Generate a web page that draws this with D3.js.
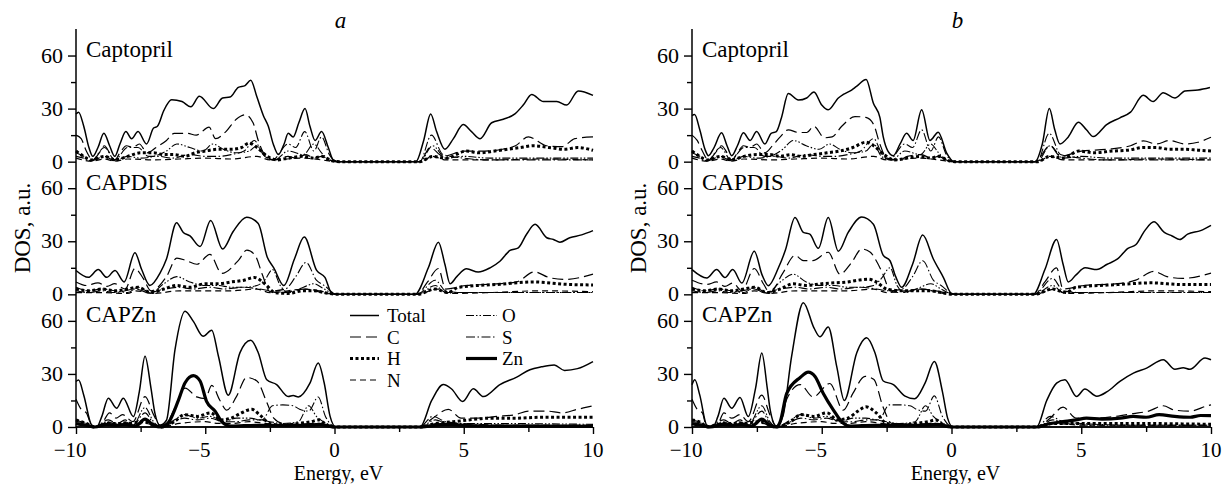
<!DOCTYPE html>
<html>
<head>
<meta charset="utf-8">
<script src="https://cdn.jsdelivr.net/npm/d3@7"></script>
<style>
  body { margin: 0; background: #fff; }
  svg text { font-family: "Liberation Serif", "Times New Roman", serif; fill: #000; }
</style>
</head>
<body>
<div id="chart"></div>
<script>
// axis ticks and names
var energyTicks = [-10, -5, 0, 5, 10];
var energyMinor = [-7.5, -2.5, 2.5, 7.5];
var dosTicks = [0, 30, 60];
var dosMinor = [15, 45];
var panelNames = ["a", "b"];
var systemNames = ["Captopril", "CAPDIS", "CAPZn"];
var seriesNames = ["Total", "C", "H", "N", "O", "S", "Zn"];

// ---- panel a, Captopril  ([energy eV, DOS])
var aCapTotal = [[-10,27],[-9.9,28],[-9.7,20],[-9.5,8],[-9.35,3],[-9.15,8],[-8.92,16],[-8.7,9],[-8.5,3],[-8.3,10],[-8.07,17],[-7.85,13],[-7.6,17],[-7.27,10],[-7.0,19],[-6.85,20],[-6.6,29],[-6.3,35],[-5.9,34],[-5.56,31],[-5.23,37],[-4.69,30],[-4.33,36],[-4.04,36.5],[-3.72,42],[-3.46,43],[-3.24,46],[-3.0,36.5],[-2.75,26],[-2.56,20],[-2.37,10],[-2.17,4],[-1.95,10],[-1.79,16],[-1.6,14],[-1.38,22],[-1.14,30],[-0.95,20],[-0.75,12],[-0.5,17],[-0.24,8],[-0.05,1],[0.2,0],[3.15,0],[3.45,12],[3.72,27],[3.95,17],[4.27,7],[4.6,13],[4.98,21],[5.3,17],[5.63,13],[6.08,22],[6.53,24],[6.98,27],[7.3,32],[7.63,38],[8.08,34],[8.6,34],[8.98,32],[9.43,40],[10,37.5]];
var aCapC = [[-10,15],[-9.8,13],[-9.6,6],[-9.35,1],[-9.1,5],[-8.9,9],[-8.7,5],[-8.5,1],[-8.3,5],[-8.05,9],[-7.8,8],[-7.55,10],[-7.25,5],[-6.9,8],[-6.5,12],[-6.2,16],[-5.7,16],[-5.35,15],[-4.85,19.5],[-4.6,13],[-4.2,17],[-3.8,24],[-3.45,26.5],[-3.15,22],[-2.95,12],[-2.7,4],[-2.35,1],[-1.8,3],[-1.5,2],[-1.1,4],[-0.8,2],[-0.5,3],[-0.2,1],[0.1,0],[3.3,0],[3.7,8],[4.2,3],[5.0,6],[5.8,6],[6.5,7],[7.0,9],[7.5,14],[8.2,9],[8.8,8.5],[9.3,13],[10,14]];
var aCapH = [[-10,6],[-9.7,3],[-9.4,1],[-8.9,3],[-8.5,1],[-8.0,3],[-7.5,5],[-7.0,5],[-6.6,4],[-6.2,4],[-5.8,3],[-5.4,5],[-5.0,6],[-4.5,7],[-4.0,7],[-3.6,8],[-3.3,10.5],[-3.0,8],[-2.6,3],[-2.2,1],[-1.8,2],[-1.2,3],[-0.8,2],[-0.5,3],[-0.1,0.5],[0.2,0],[3.3,0],[3.8,3],[4.3,2],[5.1,6],[5.6,5],[6.2,6],[6.7,7],[7.2,8],[7.7,9],[8.3,8],[8.9,7],[9.4,8],[10,6.4]];
var aCapN = [[-10,2],[-9.4,0.3],[-8.9,1.5],[-8.5,0.3],[-8,1.5],[-7,1],[-6,1.5],[-5,2],[-4,1.5],[-3,3],[-2.5,1],[-1.2,2],[-0.5,1],[0.1,0],[3.3,0],[3.8,3],[4.3,1],[6,1],[8,1.5],[10,1]];
var aCapO = [[-10,3],[-9.7,2],[-9.4,0.5],[-8.9,3],[-8.5,0.5],[-8,3],[-7.5,2],[-7,3],[-6.5,6],[-6.1,10],[-5.6,8],[-5.1,6],[-4.7,10],[-4.3,7],[-3.8,5],[-3.3,6],[-3.0,9],[-2.7,3],[-2.3,1],[-1.8,6],[-1.2,4],[-0.8,10],[-0.5,5],[-0.2,1],[0.1,0],[3.3,0],[3.8,9],[4.3,2],[5,3],[6,2],[8,2],[10,2]];
var aCapS = [[-10,5],[-9.7,3],[-9.4,0.5],[-8.9,8],[-8.5,1],[-8.0,8],[-7.6,8],[-7.2,3],[-6.8,3],[-6.3,2],[-5.6,4],[-5.0,3],[-4.5,3],[-4.0,4],[-3.5,6],[-3.1,12],[-2.8,5],[-2.4,1],[-1.8,10],[-1.5,8],[-1.15,17],[-0.8,6],[-0.5,14],[-0.2,4],[0.1,0],[3.3,0],[3.75,15],[4.2,4],[5,2],[6,1],[8,1],[10,1]];

// ---- panel a, CAPDIS
var aDisTotal = [[-10,13.5],[-9.52,9.6],[-9.14,14],[-8.81,9.6],[-8.49,13.5],[-8.14,7],[-7.72,23.5],[-7.46,14],[-7.14,5],[-6.75,12],[-6.5,20],[-6.11,40.5],[-5.85,35],[-5.59,33],[-5.2,27],[-4.79,41.7],[-4.33,25.6],[-3.92,35.5],[-3.4,43.6],[-2.95,40],[-2.6,21],[-2.35,15],[-1.96,5],[-1.55,20],[-1.17,32.4],[-0.69,13.5],[-0.37,9.6],[-0.1,0.5],[0.2,0],[3.11,0],[3.63,15],[4.02,29.5],[4.27,17],[4.47,6],[4.73,10],[5.11,14.4],[5.56,12.6],[6.02,15],[6.4,18.7],[6.79,24.8],[7.11,26.3],[7.43,34],[7.76,39.6],[8.21,32],[8.47,31],[8.72,29.5],[9.1,32],[9.56,33.6],[10,36]];
var aDisC = [[-10,7],[-9.6,5],[-9.15,6.5],[-8.8,4.5],[-8.5,6],[-8.1,3],[-7.72,14.6],[-7.4,9],[-7.1,2],[-6.5,10],[-6.1,20.5],[-5.72,19],[-5.33,17],[-4.82,22.6],[-4.36,11.8],[-3.7,19.5],[-3.39,25],[-3.07,22],[-2.8,11.5],[-2.5,1.5],[-2.0,1],[-1.2,3],[-0.6,2],[0.1,0],[3.2,0],[3.6,7],[4.02,14.6],[4.3,3],[5.1,5],[6.4,6],[7.05,7],[7.73,12.7],[8.3,9.5],[8.9,8.4],[10,11.4]];
var aDisH = [[-10,3],[-9.5,2],[-9,3],[-8.5,2],[-8,3],[-7.6,4],[-7.1,1],[-6.6,3],[-6.1,5],[-5.6,4],[-5,6],[-4.5,6],[-4,7],[-3.5,8],[-3.1,9.5],[-2.7,6],[-2.3,1],[-1.8,0.5],[-1.2,2],[-0.8,2],[-0.4,1],[0.1,0],[3.2,0],[3.9,3],[4.4,1],[4.8,4],[6.4,5.7],[7.7,7],[8.9,5.7],[10,5.3]];
var aDisN = [[-10,1],[-9,1],[-8,0.5],[-7.7,2],[-7,0.5],[-6,2],[-5,2],[-4,2],[-3,3],[-2.5,1],[-1.1,3],[-0.5,1],[0.1,0],[3.2,0],[4,3],[4.4,0.5],[6,1],[8,2],[10,1.5]];
var aDisO = [[-10,4],[-9.5,2],[-9,3],[-8.5,2],[-8,1],[-7.6,4],[-7.1,1],[-6.6,6],[-6.1,10],[-5.6,7],[-5,5],[-4.5,5],[-4,4],[-3.5,4],[-3,5],[-2.7,8],[-2.4,14],[-2.1,5],[-1.8,1],[-1.2,4],[-0.8,6],[-0.4,3],[0.1,0],[3.2,0],[3.9,5],[4.3,1],[5,1],[10,1]];
var aDisS = [[-10,2],[-9.5,1],[-9,2],[-8.5,1],[-7.7,3],[-7.2,1],[-6.6,3],[-6,4],[-5.5,3],[-4.8,4],[-4.3,3],[-3.5,4],[-2.9,3],[-2.4,2],[-1.9,3],[-1.5,10],[-1.1,18],[-0.7,8],[-0.4,5],[0.1,0],[3.2,0],[3.9,8],[4.3,2],[5,1],[7,1],[10,1]];

// ---- panel a, CAPZn
var aZnTotal = [[-10,25.7],[-9.9,26.5],[-9.7,18],[-9.39,1],[-9.2,0],[-9.0,6],[-8.75,16.3],[-8.43,10.6],[-8.17,16.3],[-7.78,5.9],[-7.55,20],[-7.33,40],[-7.1,22],[-6.95,8],[-6.75,1],[-6.5,3.8],[-6.17,43.7],[-5.78,65.5],[-5.46,59.7],[-5.08,51.3],[-4.75,54.7],[-4.49,40],[-4.11,18],[-3.66,41.9],[-3.24,49],[-2.95,42],[-2.62,26.7],[-2.24,24],[-1.79,17.2],[-1.6,17.8],[-1.4,17],[-0.95,24.8],[-0.63,36.2],[-0.4,25],[-0.17,6],[0.05,0],[3.31,0],[3.76,15],[4.21,24],[4.53,21.5],[4.96,14.4],[5.37,21.6],[5.76,17.2],[6.4,24],[7.05,28.2],[7.56,32.4],[8.0,34],[8.5,35],[8.9,32],[9.4,33],[10,37]];
var aZnC = [[-10,15.7],[-9.8,10],[-9.6,8],[-9.35,0],[-9.0,2],[-8.7,8],[-8.45,5],[-8.2,7],[-7.8,3],[-7.33,17.2],[-7.0,7],[-6.75,1],[-6.5,2],[-6.2,10],[-5.78,22],[-5.33,17],[-5.0,16],[-4.75,23.5],[-4.43,15],[-4.17,9.5],[-3.8,17],[-3.4,28],[-3.0,26],[-2.62,14],[-2.35,5],[-2.0,2],[-1.5,1.5],[-0.8,2],[-0.4,1],[0.05,0],[3.3,0],[3.8,5],[4.4,10],[4.9,5],[5.5,5],[6.3,6],[7,7],[7.5,9],[8.2,9],[8.8,8],[9.4,10],[10,12]];
var aZnH = [[-10,4],[-9.6,2],[-9.3,0],[-8.75,2],[-8.1,2],[-7.33,3],[-7,1],[-6.7,0],[-6.2,3],[-5.8,7],[-5.3,6],[-4.8,8],[-4.4,4],[-4.0,5],[-3.6,8],[-3.2,10],[-2.9,7],[-2.5,2],[-2,1],[-1.4,2],[-0.9,3],[-0.6,4],[-0.3,1],[0.05,0],[3.3,0],[3.9,2],[4.6,3],[5.2,4],[6,5],[7,5],[8,5.5],[9,5.5],[10,5.5]];
var aZnN = [[-10,1.5],[-9.3,0],[-8.7,1],[-8,1],[-7.33,2],[-6.7,0],[-6,2],[-5,3],[-4.5,2],[-4,2],[-3.3,3],[-2.7,2],[-2,1],[-1,1],[-0.6,2],[0.05,0],[3.3,0],[4,2],[5,1],[10,1]];
var aZnO = [[-10,4],[-9.6,2],[-9.3,0],[-8.75,3],[-8.4,1],[-8.1,3],[-7.8,1],[-7.33,11],[-7,3],[-6.7,0],[-6.2,4],[-5.8,7],[-5.3,5],[-4.8,6],[-4.3,3],[-3.8,5],[-3.3,5],[-2.9,4],[-2.5,3],[-2,2],[-1.4,3],[-1.0,12],[-0.7,6],[-0.3,2],[0.05,0],[3.3,0],[3.9,4],[4.4,2],[5.5,2],[10,1.5]];
var aZnS = [[-10,3],[-9.6,2],[-9.3,0],[-8.75,4],[-8.4,2],[-8.1,4],[-7.8,1],[-7.33,8],[-7,2],[-6.7,0],[-6.2,3],[-5.8,5],[-5.3,4],[-4.8,5],[-4.3,3],[-3.8,3],[-3.3,4],[-2.8,4],[-2.4,12],[-2.0,12.5],[-1.6,12],[-1.35,10],[-1.0,9],[-0.63,17],[-0.35,6],[0.05,0],[3.3,0],[3.8,6],[4.3,3],[5,2],[7,1],[10,1]];
var aZnZn = [[-10,2],[-9.6,1],[-9.3,0],[-8.8,1.5],[-8.4,1],[-8.1,1.5],[-7.7,0.5],[-7.33,4.5],[-7.0,1],[-6.7,0],[-6.4,3],[-6.04,15],[-5.78,25],[-5.46,29],[-5.2,26],[-4.95,14.5],[-4.62,9],[-4.33,2.5],[-4.0,0.5],[-3,1],[-2,1],[-1,1],[-0.6,1.5],[0,0],[3.3,0],[4.3,1.5],[5,1],[6,0.5],[7,0.5],[8,0.5],[10,0.3]];

// ---- panel b, Captopril
var bCapTotal = [[-10,26],[-9.9,26.6],[-9.7,18],[-9.5,7],[-9.37,3.4],[-9.15,8],[-8.86,16.3],[-8.65,9],[-8.47,3.4],[-8.25,9],[-8.02,16.3],[-7.76,12],[-7.51,17],[-7.19,10],[-6.95,16],[-6.75,17],[-6.55,25],[-6.29,38.5],[-5.9,34.8],[-5.58,36],[-5.3,39.4],[-5.0,32],[-4.75,29.3],[-4.36,36],[-4.17,38],[-3.85,40.5],[-3.66,42.6],[-3.29,46.4],[-3.01,33],[-2.76,25],[-2.63,14],[-2.45,6],[-2.24,3.4],[-1.98,10],[-1.73,16],[-1.48,12],[-1.15,29.4],[-0.83,12],[-0.51,16.7],[-0.19,5],[0.1,0],[3.22,0],[3.5,10],[3.77,30],[3.98,18],[4.18,10],[4.5,14],[4.89,22.3],[5.2,18],[5.46,14.2],[5.98,21],[6.49,24.8],[6.9,28],[7.39,37.5],[7.77,34],[8.16,39],[8.61,36],[9.0,40],[9.5,40.5],[9.96,41.9]];
var bCapC = [[-10,15],[-9.8,12],[-9.6,6],[-9.37,1],[-9.1,5],[-8.86,9],[-8.65,5],[-8.47,1],[-8.25,5],[-8.02,9],[-7.76,8],[-7.51,10],[-7.2,5],[-6.9,9],[-6.6,14],[-6.29,18],[-5.9,16.5],[-5.58,16.5],[-5.3,20],[-4.9,13.5],[-4.6,14],[-4.23,20],[-3.72,25.5],[-3.3,25],[-3.0,21],[-2.76,10],[-2.5,2],[-2.0,1],[-1.7,3],[-1.15,4],[-0.8,2],[-0.5,3],[-0.2,1],[0.1,0],[3.22,0],[3.8,9],[4.2,3],[5,6],[6,7],[6.9,9],[7.4,11.7],[7.9,10],[8.4,12],[9,10],[9.5,11],[10,13.8]];
var bCapH = [[-10,6],[-9.7,3],[-9.4,1],[-8.9,3],[-8.5,1],[-8,3],[-7.5,4],[-7,4],[-6.6,3],[-6.2,4],[-5.8,3],[-5.3,4],[-4.8,5],[-4.3,6],[-3.8,8],[-3.3,11],[-3.0,9],[-2.6,4],[-2.2,1],[-1.7,2],[-1.2,3],[-0.8,2],[-0.5,3],[-0.1,0.5],[0.2,0],[3.3,0],[3.8,3],[4.3,2],[4.9,6],[5.5,5],[6.2,6],[6.8,6.5],[7.4,8],[7.9,8],[8.4,7],[9,7],[9.5,6.5],[10,6]];
var bCapN = [[-10,2],[-9.4,0.3],[-8.9,1.5],[-8.5,0.3],[-8,1.5],[-7,1],[-6,1.5],[-5,2],[-4,1.5],[-3,3],[-2.5,1],[-1.2,2],[-0.5,1],[0.1,0],[3.3,0],[3.8,3],[4.3,1],[6,1],[8,1.5],[10,1]];
var bCapO = [[-10,3],[-9.7,2],[-9.4,0.5],[-8.9,3],[-8.5,0.5],[-8,3],[-7.5,2],[-7,3],[-6.5,7],[-6.1,12],[-5.6,9],[-5.1,7],[-4.7,10],[-4.3,7],[-3.8,5],[-3.3,6],[-3.0,10],[-2.7,3],[-2.3,1],[-1.8,6],[-1.2,4],[-0.8,10],[-0.5,5],[-0.2,1],[0.1,0],[3.3,0],[3.8,9],[4.3,2],[5,3],[6,2],[8,2],[10,2]];
var bCapS = [[-10,5],[-9.7,3],[-9.4,0.5],[-8.9,8],[-8.5,1],[-8.0,8],[-7.6,8],[-7.2,3],[-6.8,3],[-6.3,2],[-5.6,4],[-5.0,3],[-4.5,3],[-4.0,4],[-3.5,6],[-3.0,13],[-2.7,5],[-2.4,1],[-1.8,10],[-1.5,8],[-1.15,18],[-0.8,6],[-0.5,14],[-0.2,4],[0.1,0],[3.3,0],[3.77,16],[4.2,4],[5,2],[6,1],[8,1],[10,1]];

// ---- panel b, CAPDIS
var bDisTotal = [[-10,14],[-9.43,9.3],[-9.05,14],[-8.73,9.5],[-8.43,14],[-8.08,6.4],[-7.6,24.4],[-7.3,11],[-7.06,4.9],[-6.67,15],[-6.4,25],[-6.03,43.4],[-5.71,35],[-5.46,34],[-5.13,26],[-4.75,43.4],[-4.36,24.4],[-3.98,35],[-3.46,43.7],[-3.01,39.6],[-2.63,22],[-2.37,19],[-2.15,10],[-1.92,4],[-1.5,17],[-1.11,33.5],[-0.7,20],[-0.31,9.5],[0.0,0.5],[0.3,0],[3.15,0],[3.6,14],[4.05,31],[4.3,17],[4.5,7],[4.8,11],[5.15,15],[5.6,14],[6.0,17],[6.4,20],[6.8,26],[7.1,28],[7.45,36],[7.8,41],[8.2,35],[8.5,33],[8.8,31],[9.1,34],[9.6,36],[10,39]];
var bDisC = [[-10,8],[-9.43,5.6],[-9.05,7],[-8.73,4.5],[-8.43,6.4],[-8.08,2],[-7.6,14.6],[-7.25,6],[-7.0,1],[-6.5,12],[-6.03,22],[-5.7,19],[-5.35,19],[-4.75,23.8],[-4.3,11.4],[-3.85,18],[-3.46,25.6],[-3.14,24],[-2.9,19],[-2.63,11],[-2.37,2],[-2,1],[-1.2,3],[-0.6,2],[0.1,0],[3.2,0],[3.6,7],[4.05,15],[4.3,3],[5.1,5],[6.4,6],[7.1,8],[7.8,13],[8.3,10],[8.9,9],[10,12]];
var bDisH = [[-10,3],[-9.5,2],[-9,3],[-8.5,2],[-8,3],[-7.6,4],[-7.1,1],[-6.6,3],[-6.1,6],[-5.6,5],[-5,6],[-4.5,6.5],[-4,7],[-3.6,8],[-3.2,8.6],[-2.9,7],[-2.5,3],[-1.9,2],[-1.2,2],[-0.8,2],[-0.4,1],[0.1,0],[3.2,0],[3.9,3],[4.4,1],[4.8,4],[6.4,5.5],[7.7,6.5],[8.9,5.5],[10,5.5]];
var bDisN = [[-10,1],[-9,1],[-8,0.5],[-7.6,2],[-7,0.5],[-6,2],[-5,2],[-4,2],[-3,3],[-2.5,1],[-1.1,3],[-0.5,1],[0.1,0],[3.2,0],[4,3],[4.4,0.5],[6,1],[8,2],[10,1.5]];
var bDisO = [[-10,4],[-9.5,2],[-9,3],[-8.5,2],[-8,1],[-7.6,4],[-7.1,1],[-6.6,7],[-6.1,11.4],[-5.6,7],[-5,5],[-4.5,5],[-4,4],[-3.5,4],[-3,5],[-2.7,9],[-2.37,15],[-2.1,5],[-1.8,1],[-1.2,4],[-0.8,6],[-0.4,3],[0.1,0],[3.2,0],[3.9,5],[4.3,1],[5,1],[10,1]];
var bDisS = [[-10,2],[-9.5,1],[-9,2],[-8.5,1],[-7.6,3],[-7.2,1],[-6.6,3],[-6,4],[-5.5,3],[-4.8,4],[-4.3,3],[-3.5,4],[-2.9,3],[-2.4,2],[-1.9,3],[-1.5,10],[-1.11,19],[-0.7,8],[-0.4,5],[0.1,0],[3.2,0],[3.9,9],[4.3,2],[5,1],[7,1],[10,1]];

// ---- panel b, CAPZn
var bZnTotal = [[-10,23.9],[-9.89,26.7],[-9.7,18],[-9.43,1],[-9.2,0],[-9.0,6],[-8.77,16.3],[-8.47,10.6],[-8.15,16.7],[-7.83,5.9],[-7.55,22],[-7.31,41.9],[-7.1,22],[-6.99,10],[-6.75,0.5],[-6.5,6],[-6.16,40],[-5.71,70.3],[-5.3,56],[-5.07,51],[-4.75,56.6],[-4.42,34],[-4.13,15],[-3.65,42],[-3.27,50.4],[-2.95,42],[-2.63,26],[-2.24,24],[-1.79,17.5],[-1.42,16],[-1.02,24.8],[-0.66,37],[-0.35,20],[-0.15,5],[0.05,0],[3.28,0],[3.67,15],[4.05,24.8],[4.37,26.7],[4.82,17.2],[5.14,21.5],[5.6,17.4],[6.0,20],[6.49,25.8],[7.01,30.5],[7.52,33.3],[8.16,38],[8.61,32.6],[8.93,33.5],[9.18,32.6],[9.77,39],[10,38]];
var bZnC = [[-10,15.7],[-9.8,10],[-9.6,8],[-9.43,0],[-9.0,2],[-8.77,8],[-8.47,5],[-8.15,7],[-7.83,3],[-7.31,18],[-7.0,7],[-6.75,0.5],[-6.6,3],[-6.35,15.7],[-5.83,24],[-5.33,17],[-4.69,24.6],[-4.17,9.5],[-3.8,19],[-3.33,28.6],[-3.0,27],[-2.63,11],[-2.3,2],[-1.5,1.5],[-0.8,2],[-0.4,1],[0.05,0],[3.3,0],[3.8,5],[4.3,11.2],[4.8,5],[5.5,5],[6.3,6],[7,7.6],[7.6,9],[8.16,12],[8.6,9.5],[9.2,9],[9.86,12],[10,12.5]];
var bZnH = [[-10,4],[-9.6,2],[-9.43,0],[-8.77,2],[-8.15,2],[-7.31,3],[-7,1],[-6.75,0],[-6.2,3],[-5.8,7],[-5.3,6],[-4.8,8],[-4.4,4],[-4.0,5],[-3.6,9],[-3.3,11.4],[-2.9,8],[-2.5,2],[-2,1],[-1.4,2],[-0.9,3],[-0.6,4],[-0.3,1],[0.05,0],[3.3,0],[3.9,2],[4.6,2],[5.5,2],[7,2],[10,1.5]];
var bZnN = [[-10,1.5],[-9.43,0],[-8.7,1],[-8,1],[-7.31,2],[-6.75,0],[-6,2],[-5,3],[-4.5,2],[-4,2],[-3.3,3],[-2.7,2],[-2,1],[-1,1],[-0.6,2],[0.05,0],[3.3,0],[4,2],[5,1],[10,1]];
var bZnO = [[-10,4],[-9.6,2],[-9.43,0],[-8.77,3],[-8.47,1],[-8.15,3],[-7.83,1],[-7.31,12],[-7,3],[-6.75,0],[-6.2,4],[-5.8,7],[-5.3,5],[-4.8,6],[-4.3,3],[-3.8,5],[-3.3,5],[-2.9,4],[-2.5,3],[-2,2],[-1.4,3],[-1.0,12],[-0.7,6],[-0.3,2],[0.05,0],[3.3,0],[3.9,4],[4.4,2],[5.5,1],[10,1]];
var bZnS = [[-10,3],[-9.6,2],[-9.43,0],[-8.77,4],[-8.47,2],[-8.15,4],[-7.83,1],[-7.31,9],[-7,2],[-6.75,0],[-6.2,3],[-5.8,5],[-5.3,4],[-4.8,5],[-4.3,3],[-3.8,3],[-3.3,4],[-2.8,4],[-2.4,12.5],[-2.0,12.5],[-1.6,12],[-1.35,10],[-1.0,9],[-0.66,17.6],[-0.35,6],[0.05,0],[3.3,0],[3.8,6],[4.3,3],[5,2],[7,1],[10,1]];
var bZnZn = [[-10,2],[-9.6,1],[-9.3,0],[-8.8,1.5],[-8.4,1],[-8.1,1.5],[-7.7,0.5],[-7.31,4.5],[-7.0,1],[-6.75,0],[-6.6,3],[-6.35,19],[-5.83,28],[-5.52,31],[-5.26,28.6],[-4.94,19],[-4.55,9.6],[-4.2,2.5],[-3.9,0.5],[-3,1],[-2,1],[-1,1],[-0.6,1.5],[0,0],[3.3,0],[3.8,2],[4.3,3],[4.8,4],[5.2,5],[5.8,4.5],[6.5,5],[7.0,6],[7.5,5.5],[8.0,7],[8.6,6],[9.2,5.5],[9.6,6.5],[10,6.4]];

// tables built from the arrays above
var panels = [
  [{Total: aCapTotal, C: aCapC, H: aCapH, N: aCapN, O: aCapO, S: aCapS},
   {Total: aDisTotal, C: aDisC, H: aDisH, N: aDisN, O: aDisO, S: aDisS},
   {Total: aZnTotal, C: aZnC, H: aZnH, N: aZnN, O: aZnO, S: aZnS, Zn: aZnZn}],
  [{Total: bCapTotal, C: bCapC, H: bCapH, N: bCapN, O: bCapO, S: bCapS},
   {Total: bDisTotal, C: bDisC, H: bDisH, N: bDisN, O: bDisO, S: bDisS},
   {Total: bZnTotal, C: bZnC, H: bZnH, N: bZnN, O: bZnO, S: bZnS, Zn: bZnZn}]
];

var styles = {
  Total: {w: 1.5, dash: null},
  C:     {w: 1.2, dash: "11,5"},
  H:     {w: 3,   dash: "3,2.5"},
  N:     {w: 1.2, dash: "6,4"},
  O:     {w: 1.1, dash: "8,2,1.5,2,1.5,2"},
  S:     {w: 1.1, dash: "9,2.5,1.5,2.5"},
  Zn:    {w: 3.2, dash: null}
};
var drawOrder = ["N", "O", "S", "H", "C", "Zn", "Total"];

var width = 1222, height = 484;
var plotTop = 29, plotBottom = 427;
var subH = (plotBottom - plotTop) / 3;
var panelX = [[76, 593], [692, 1211]];
var fontSize = 23;
var serif = "'Liberation Serif', 'Times New Roman', serif";

var svg = d3.select("#chart").append("svg")
    .attr("width", width)
    .attr("height", height)
    .attr("font-family", serif);

panels.forEach(function (subplots, p) {
  var x = d3.scaleLinear().domain([-10, 10]).range(panelX[p]);
  var g = svg.append("g");

  subplots.forEach(function (series, s) {
    var top = plotTop + s * subH;
    var y = d3.scaleLinear().domain([0, 75]).range([top + subH, top]);

    // y ticks (outside, left)
    var yMajor = d3.axisLeft(y).tickValues(dosTicks).tickSize(8).tickPadding(5);
    var yMin = d3.axisLeft(y).tickValues(dosMinor).tickSize(5).tickFormat("");
    [yMajor, yMin].forEach(function (ax) {
      var a = g.append("g")
          .attr("transform", "translate(" + panelX[p][0] + ",0)")
          .call(ax)
          .attr("font-family", serif);
      a.select(".domain").remove();
      a.selectAll("line").attr("stroke", "#000").attr("stroke-width", 1.4);
      a.selectAll("text")
          .style("font-size", "22px")
          .attr("dy", "0.3em");
    });

    var line = d3.line()
        .x(function (d) { return x(d[0]); })
        .y(function (d) { return y(d[1]); })
        .curve(d3.curveMonotoneX);

    drawOrder.forEach(function (name) {
      if (!series[name]) return;
      var st = styles[name];
      g.append("path")
          .datum(series[name])
          .attr("fill", "none")
          .attr("stroke", "#000")
          .attr("stroke-width", st.w)
          .attr("stroke-dasharray", st.dash)
          .attr("stroke-linejoin", "round")
          .attr("d", line);
    });

    g.append("text")
        .attr("x", panelX[p][0] + 10)
        .attr("y", top + 28)
        .style("font-size", fontSize + "px")
        .text(systemNames[s]);
  });

  // left axis line through all three subplots
  g.append("line")
      .attr("x1", panelX[p][0]).attr("x2", panelX[p][0])
      .attr("y1", plotTop).attr("y2", plotBottom)
      .attr("stroke", "#000").attr("stroke-width", 1.5);

  // bottom axis
  var xMajor = d3.axisBottom(x).tickValues(energyTicks).tickSize(7).tickFormat("");
  var xMin = d3.axisBottom(x).tickValues(energyMinor).tickSize(5).tickFormat("");
  [xMajor, xMin].forEach(function (ax) {
    var a = g.append("g")
        .attr("transform", "translate(0," + plotBottom + ")")
        .call(ax);
    a.select(".domain").attr("stroke-width", 1.5).attr("d", "M" + panelX[p][0] + ",0H" + panelX[p][1]);
    a.selectAll("line").attr("stroke", "#000").attr("stroke-width", 1.4);
  });
  g.selectAll(".xlab")
      .data(energyTicks)
    .enter().append("text")
      .attr("class", "xlab")
      .attr("x", function (d) { return x(d); })
      .attr("y", plotBottom + 30)
      .attr("text-anchor", "middle")
      .attr("dx", function (d) { return d < 0 ? "-0.28em" : 0; })
      .style("font-size", "21px")
      .text(function (d) { return d < 0 ? "\u2212" + Math.abs(d) : d; });

  var mid = (panelX[p][0] + panelX[p][1]) / 2;
  g.append("text")
      .attr("x", mid + 4)
      .attr("y", 480)
      .attr("text-anchor", "middle")
      .style("font-size", "20px")
      .text("Energy, eV");

  g.append("text")
      .attr("transform", "translate(" + (panelX[p][0] - 46) + "," + ((plotTop + plotBottom) / 2) + ") rotate(-90)")
      .attr("text-anchor", "middle")
      .style("font-size", fontSize + "px")
      .text("DOS, a.u.");

  g.append("text")
      .attr("x", mid + 6)
      .attr("y", 28)
      .attr("text-anchor", "middle")
      .style("font-size", fontSize + "px")
      .style("font-style", "italic")
      .text(panelNames[p]);
});

// legend (panel a, CAPZn)
var legendCols = [["Total", "C", "H", "N"], ["O", "S", "Zn"]];
var legendX = [[350, 379, 387], [466, 497, 502]];
var legend = svg.append("g");
legendCols.forEach(function (col, c) {
  col.forEach(function (name, r) {
    var ly = 315.5 + r * 21.5;
    var st = styles[name];
    legend.append("line")
        .attr("x1", legendX[c][0]).attr("x2", legendX[c][1])
        .attr("y1", ly).attr("y2", ly)
        .attr("stroke", "#000")
        .attr("stroke-width", st.w)
        .attr("stroke-dasharray", st.dash);
    legend.append("text")
        .attr("x", legendX[c][2])
        .attr("y", ly)
        .attr("dy", "0.35em")
        .style("font-size", "19px")
        .text(name);
  });
});
</script>
</body>
</html>
